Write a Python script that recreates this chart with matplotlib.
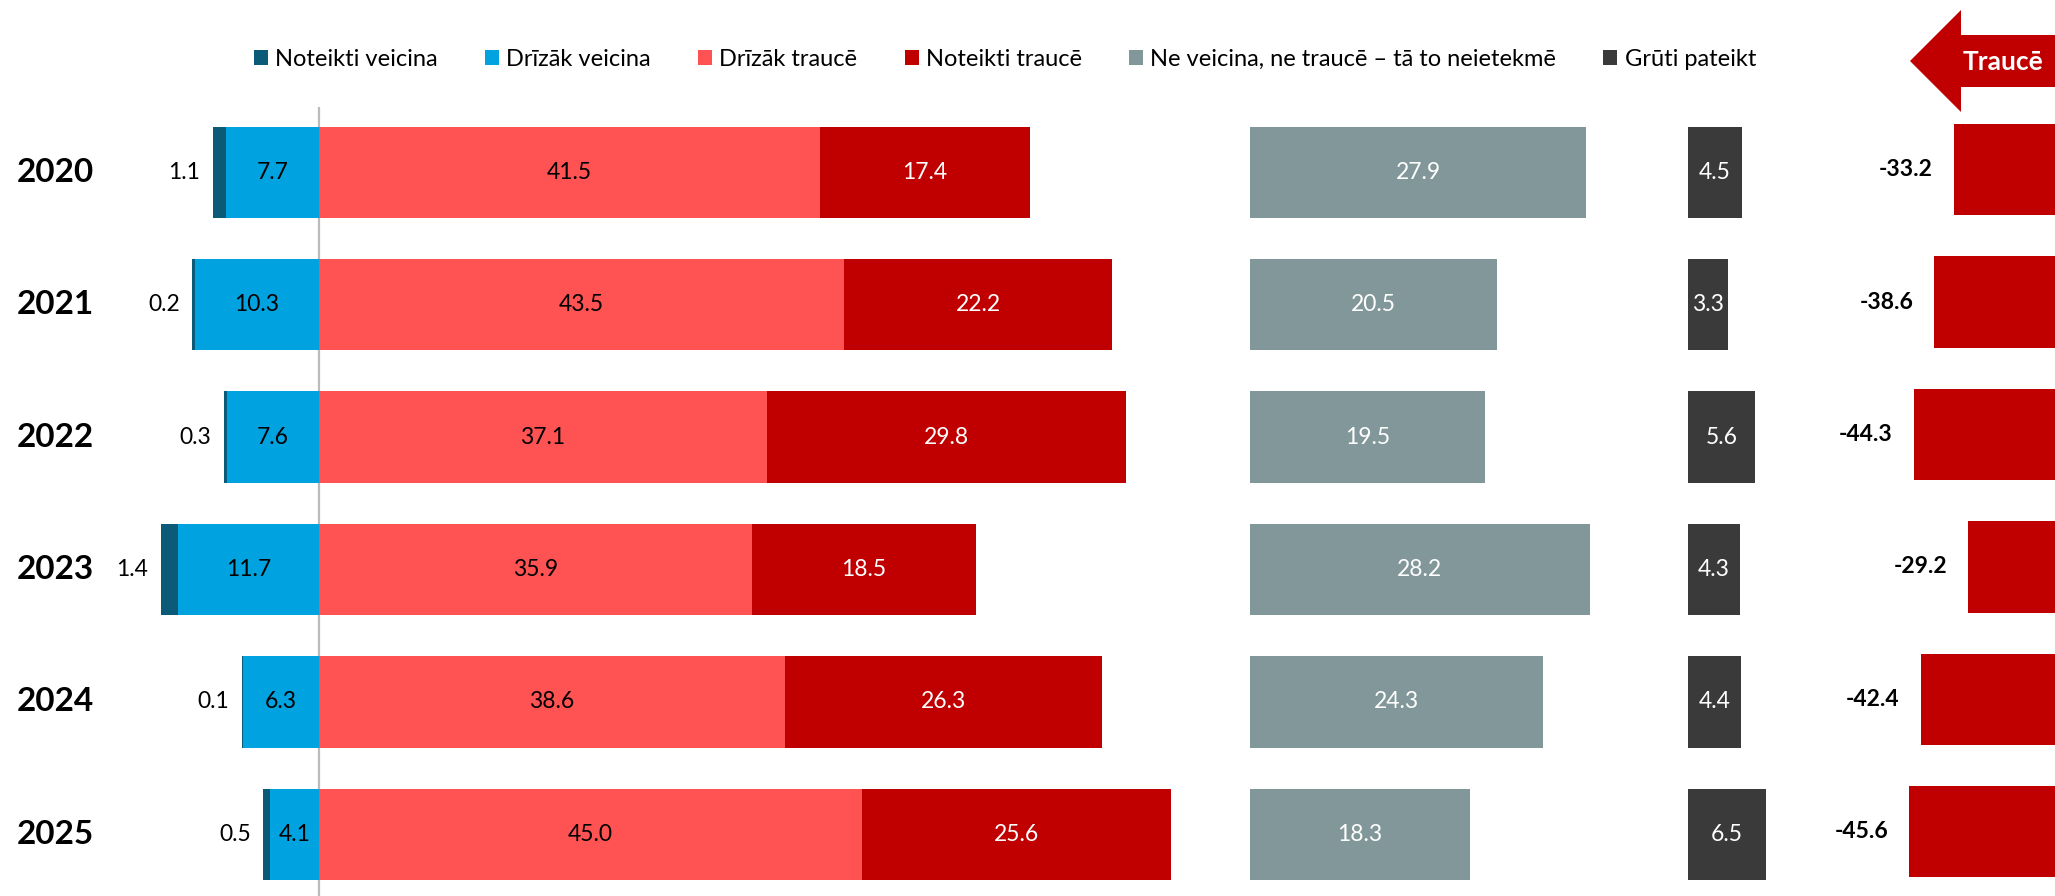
import matplotlib
matplotlib.use("Agg")
import matplotlib.pyplot as plt
from matplotlib.patches import Patch, Polygon
from matplotlib.transforms import blended_transform_factory

plt.rcParams['font.family'] = ['Lato', 'DejaVu Sans']

years = ['2020', '2021', '2022', '2023', '2024', '2025']
noteikti_veicina = [1.1, 0.2, 0.3, 1.4, 0.1, 0.5]
drizak_veicina = [7.7, 10.3, 7.6, 11.7, 6.3, 4.1]
drizak_traucee = [41.5, 43.5, 37.1, 35.9, 38.6, 45.0]
noteikti_traucee = [17.4, 22.2, 29.8, 18.5, 26.3, 25.6]
neutral = [27.9, 20.5, 19.5, 28.2, 24.3, 18.3]
hard_to_say = [4.5, 3.3, 5.6, 4.3, 4.4, 6.5]
net = [-33.2, -38.6, -44.3, -29.2, -42.4, -45.6]

legend_labels = ['Noteikti veicina', 'Drīzāk veicina', 'Drīzāk traucē', 'Noteikti traucē',
                 'Ne veicina, ne traucē – tā to neietekmē', 'Grūti pateikt']
arrow_label = 'Traucē'

C_NV = '#0B5A78'
C_DV = '#00A3E0'
C_DT = '#FF5252'
C_NT = '#C00000'
C_NEU = '#829799'
C_HARD = '#3A3A3A'

W, H = 2055, 896
fig = plt.figure(figsize=(W / 100, H / 100), dpi=100)

# main axes: pixel mapping x_px = 319 + 12.07 * x
sx = 12.07
x0 = 319
ax = fig.add_axes([0, 0, 1, 1])
ax.set_xlim(-x0 / sx, (W - x0) / sx)
sy = 132.4
y0 = 172.3
ax.set_ylim((H - y0) / sy, -y0 / sy)
ax.axis('off')

NEU_OFF = 77.1
HARD_OFF = 113.4
bh = 0.69
ypos = list(range(len(years)))
lab_fs = 16.5

for i, y in enumerate(ypos):
    dv = drizak_veicina[i]
    nv = noteikti_veicina[i]
    dt = drizak_traucee[i]
    nt = noteikti_traucee[i]
    ax.barh(y, -dv, left=0, height=bh, color=C_DV, linewidth=0)
    ax.barh(y, -nv, left=-dv, height=bh, color=C_NV, linewidth=0)
    ax.barh(y, dt, left=0, height=bh, color=C_DT, linewidth=0)
    ax.barh(y, nt, left=dt, height=bh, color=C_NT, linewidth=0)
    ax.barh(y, neutral[i], left=NEU_OFF, height=bh, color=C_NEU, linewidth=0)
    ax.barh(y, hard_to_say[i], left=HARD_OFF, height=bh, color=C_HARD, linewidth=0)

    ax.text(-dv / 2, y, f'{dv:.1f}', ha='center', va='center', fontsize=lab_fs, color='black')
    ax.annotate(f'{nv:.1f}', xy=(-dv - nv, y), xytext=(-9, 0), textcoords='offset points',
                ha='right', va='center', fontsize=lab_fs, color='black')
    ax.text(dt / 2, y, f'{dt:.1f}', ha='center', va='center', fontsize=lab_fs, color='black')
    ax.text(dt + nt / 2, y, f'{nt:.1f}', ha='center', va='center', fontsize=lab_fs, color='white')
    ax.text(NEU_OFF + neutral[i] / 2, y, f'{neutral[i]:.1f}', ha='center', va='center',
            fontsize=lab_fs, color='white')
    ax.text(HARD_OFF + hard_to_say[i] / 2, y, f'{hard_to_say[i]:.1f}', ha='center', va='center',
            fontsize=lab_fs, color='white')

# zero line (from just above first row down to bottom)
ax.plot([0, 0], [(107 - y0) / sy, (H - y0) / sy],
        color='#BBBBBB', lw=1.6, solid_capstyle='butt', zorder=0.5)

# year labels
tr = blended_transform_factory(fig.transFigure, ax.transData)
for i, y in enumerate(ypos):
    ax.text(17 / W, y, years[i], transform=tr, ha='left', va='center',
            fontsize=24, fontweight='bold', color='black')

# net axes
snet = 3.62
R = 2074
ax2 = fig.add_axes([0, 0, 1, 1])
ax2.set_xlim(-R / snet, (W - R) / snet)
ax2.set_ylim(ax.get_ylim())
ax2.axis('off')
ax2.patch.set_alpha(0)
for i, y in enumerate(ypos):
    ax2.barh(y - 0.02, net[i], left=0, height=bh, color=C_NT, linewidth=0)
    ax2.annotate(f'{net[i]:.1f}', xy=(net[i], y - 0.02), xytext=(-15, 0), textcoords='offset points',
                 ha='right', va='center', fontsize=16.5, fontweight='bold', color='black')

# legend
handles = [Patch(facecolor=c, edgecolor='none') for c in [C_NV, C_DV, C_DT, C_NT, C_NEU, C_HARD]]
fig.legend(handles, legend_labels, loc='center', bbox_to_anchor=(0.489, 1 - 59 / H), ncol=6,
           frameon=False, fontsize=17, handlelength=0.6, handleheight=0.6, handletextpad=0.3,
           columnspacing=2.0)

# arrow
pts_px = [(1910, 61), (1961, 10), (1961, 35), (2060, 35), (2060, 87), (1961, 87), (1961, 112)]
pts = [(x / W, 1 - y / H) for x, y in pts_px]
fig.patches.append(Polygon(pts, closed=True, transform=fig.transFigure, facecolor=C_NT,
                           edgecolor='none', figure=fig))
fig.text(2003 / W, 1 - 62 / H, arrow_label, ha='center', va='center', fontsize=19,
         fontweight='bold', color='white')

fig.savefig('out.png', dpi=100)
